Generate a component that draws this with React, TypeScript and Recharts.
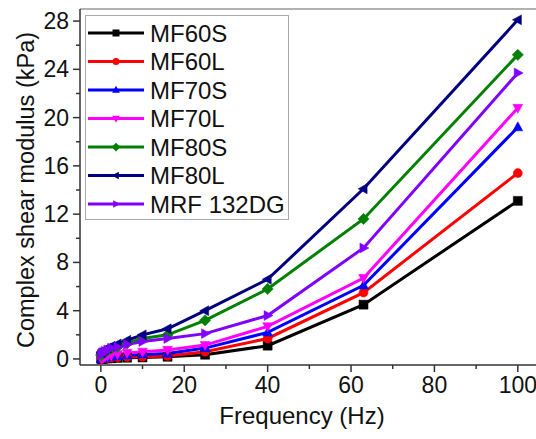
import React from "react";
import { LineChart, Line, XAxis, YAxis, Legend, ReferenceLine, Label } from "recharts";

const freq = [0.1, 0.16, 0.25, 0.4, 0.63, 1, 1.6, 2.5, 4, 6.3, 10, 16, 25, 40, 63, 100];

const mf60s = [0.01, 0.015, 0.02, 0.025, 0.03, 0.04, 0.05, 0.06, 0.08, 0.1, 0.12, 0.18, 0.35, 1.1, 4.5, 13.1];
const mf60l = [0.02, 0.03, 0.04, 0.05, 0.06, 0.07, 0.09, 0.11, 0.13, 0.16, 0.18, 0.25, 0.6, 1.7, 5.5, 15.4];
const mf70s = [0.03, 0.04, 0.05, 0.07, 0.09, 0.12, 0.15, 0.19, 0.24, 0.3, 0.37, 0.45, 0.9, 2.2, 6.1, 19.2];
const mf70l = [0.05, 0.07, 0.1, 0.12, 0.15, 0.2, 0.25, 0.3, 0.4, 0.5, 0.6, 0.75, 1.15, 2.7, 6.7, 20.8];
const mf80s = [0.3, 0.35, 0.4, 0.45, 0.5, 0.6, 0.7, 0.85, 1.0, 1.3, 1.7, 2.0, 3.2, 5.8, 11.6, 25.2];
const mf80l = [0.5, 0.55, 0.6, 0.65, 0.7, 0.8, 0.9, 1.05, 1.25, 1.55, 2.0, 2.5, 4.0, 6.6, 14.1, 28.1];
const mrf132 = [0.35, 0.4, 0.45, 0.5, 0.55, 0.65, 0.75, 0.9, 1.0, 1.2, 1.45, 1.7, 2.1, 3.6, 9.2, 23.7];

const xTicks = [0, 10, 20, 30, 40, 50, 60, 70, 80, 90, 100];
const yTicks = [0, 2, 4, 6, 8, 10, 12, 14, 16, 18, 20, 22, 24, 26, 28];

const series = [
  { key: "MF60S", name: "MF60S", color: "#000000", shape: "square", values: mf60s },
  { key: "MF60L", name: "MF60L", color: "#FF0000", shape: "circle", values: mf60l },
  { key: "MF70S", name: "MF70S", color: "#0000FF", shape: "up", values: mf70s },
  { key: "MF70L", name: "MF70L", color: "#FF00FF", shape: "down", values: mf70l },
  { key: "MF80S", name: "MF80S", color: "#008000", shape: "diamond", values: mf80s },
  { key: "MF80L", name: "MF80L", color: "#000080", shape: "left", values: mf80l },
  { key: "MRF132DG", name: "MRF 132DG", color: "#8000FF", shape: "right", values: mrf132 },
];

const data = freq.map((f, i) => {
  const row: Record<string, number> = { f };
  series.forEach((s) => (row[s.key] = s.values[i]));
  return row;
});

const FONT = "'Liberation Sans', Arial, sans-serif";

function markerPath(shape: string, cx: number, cy: number, r: number) {
  switch (shape) {
    case "square":
      return `M${cx - r},${cy - r}h${2 * r}v${2 * r}h${-2 * r}Z`;
    case "up":
      return `M${cx},${cy - r * 1.2}L${cx + r * 1.1},${cy + r * 0.8}L${cx - r * 1.1},${cy + r * 0.8}Z`;
    case "down":
      return `M${cx},${cy + r * 1.2}L${cx + r * 1.1},${cy - r * 0.8}L${cx - r * 1.1},${cy - r * 0.8}Z`;
    case "left":
      return `M${cx - r * 1.2},${cy}L${cx + r * 0.8},${cy - r * 1.1}L${cx + r * 0.8},${cy + r * 1.1}Z`;
    case "right":
      return `M${cx + r * 1.2},${cy}L${cx - r * 0.8},${cy - r * 1.1}L${cx - r * 0.8},${cy + r * 1.1}Z`;
    case "diamond":
      return `M${cx},${cy - r * 1.25}L${cx + r * 1.25},${cy}L${cx},${cy + r * 1.25}L${cx - r * 1.25},${cy}Z`;
    default:
      return `M${cx - r},${cy}a${r},${r} 0 1,0 ${2 * r},0a${r},${r} 0 1,0 ${-2 * r},0`;
  }
}

const makeDot = (shape: string, color: string) => (props: any) => {
  const { cx, cy, index } = props;
  if (cx == null || cy == null) return <g key={index} />;
  return <path key={index} d={markerPath(shape, cx, cy, 4.5)} fill={color} stroke={color} strokeWidth={0.5} />;
};

const YTick = (props: any) => {
  const { x, y, payload } = props;
  const major = payload.value % 4 === 0;
  return (
    <g>
      <line x1={x} x2={x - (major ? 7 : 4)} y1={y} y2={y} stroke="#333" strokeWidth={1.5} />
      {major && (
        <text x={x - 11} y={y + 8} textAnchor="end" fontSize={23} fontFamily={FONT} fill="#111">
          {payload.value}
        </text>
      )}
    </g>
  );
};

const XTick = (props: any) => {
  const { x, y, payload } = props;
  const major = payload.value % 20 === 0;
  return (
    <g>
      <line x1={x} x2={x} y1={y} y2={y + (major ? 7 : 4)} stroke="#333" strokeWidth={1.5} />
      {major && (
        <text x={x} y={y + 28} textAnchor="middle" fontSize={23} fontFamily={FONT} fill="#111">
          {payload.value}
        </text>
      )}
    </g>
  );
};

const LegendBox = () => (
  <div
    style={{
      width: 204,
      height: 205,
      border: "1px solid #aaa",
      background: "#fff",
      boxSizing: "border-box",
    }}
  >
    <svg width={204} height={205}>
      {series.map((s, i) => {
        const y = 17 + i * 28.5;
        return (
          <g key={s.key}>
            <line x1={2} x2={58} y1={y} y2={y} stroke={s.color} strokeWidth={3} />
            <path d={markerPath(s.shape, 30, y, 3.5)} fill={s.color} />
            <text x={64} y={y + 8.5} fontSize={24} fontFamily={FONT} fill="#111">
              {s.name}
            </text>
          </g>
        );
      })}
    </svg>
  </div>
);

export default function App() {
  return (
    <div style={{ position: "absolute", left: 0, top: 0, width: 536, height: 439, overflow: "hidden", background: "#fff" }}>
      <LineChart width={550} height={439} data={data} margin={{ top: 9, right: 3, left: 0, bottom: 0 }}>
        <XAxis
          dataKey="f"
          type="number"
          domain={[-5, 107]}
          ticks={xTicks}
          interval={0}
          allowDataOverflow
          height={74}
          tickSize={0}
          tickMargin={0}
          tick={<XTick />}
          stroke="#333"
          strokeWidth={1.5}
        >
          <Label
            content={() => (
              <text x={302} y={424} textAnchor="middle" fontSize={24} fontFamily={FONT} fill="#111">
                Frequency (Hz)
              </text>
            )}
          />
        </XAxis>
        <YAxis
          type="number"
          domain={[-0.5, 29]}
          ticks={yTicks}
          interval={0}
          allowDataOverflow
          width={80}
          tickSize={0}
          tickMargin={0}
          tick={<YTick />}
          stroke="#333"
          strokeWidth={1.5}
        >
          <Label
            content={() => (
              <text
                x={34}
                y={190}
                transform="rotate(-90 34 190)"
                textAnchor="middle"
                fontSize={23.5}
                fontFamily={FONT}
                fill="#111"
              >
                Complex shear modulus (kPa)
              </text>
            )}
          />
        </YAxis>
        <ReferenceLine y={29} stroke="#999" strokeWidth={1.5} />
        {series.map((s) => (
          <Line
            key={s.key}
            dataKey={s.key}
            name={s.name}
            stroke={s.color}
            strokeWidth={3}
            dot={makeDot(s.shape, s.color)}
            isAnimationActive={false}
          />
        ))}
        <Legend
          layout="horizontal"
          verticalAlign="middle"
          align="center"
          content={<LegendBox />}
          wrapperStyle={{ position: "absolute", left: 85, top: 15, width: 204, height: 205 }}
        />
      </LineChart>
    </div>
  );
}
